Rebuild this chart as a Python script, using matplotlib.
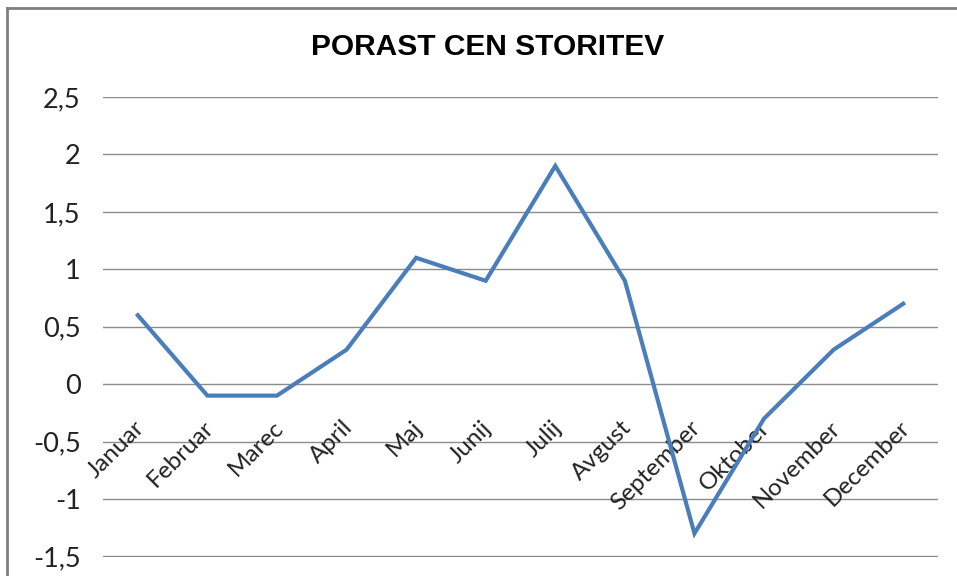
import matplotlib.pyplot as plt
from matplotlib.lines import Line2D

plt.rcParams['font.family'] = ['Lato', 'DejaVu Sans']

meseci = ['Januar', 'Februar', 'Marec', 'April', 'Maj', 'Junij', 'Julij',
          'Avgust', 'September', 'Oktober', 'November', 'December']
porast = [0.6, -0.1, -0.1, 0.3, 1.1, 0.9, 1.9, 0.9, -1.3, -0.3, 0.3, 0.7]
yticks = [-1.5, -1, -0.5, 0, 0.5, 1, 1.5, 2, 2.5]
ylabels = ['-1,5', '-1', '-0,5', '0', '0,5', '1', '1,5', '2', '2,5']

W, H = 957, 576
fig = plt.figure(figsize=(W / 100, H / 100), dpi=100)
fig.patch.set_facecolor('white')

# chart frame (cropped at right and bottom)
fig.add_artist(Line2D([7 / W, 7 / W], [0, 1 - 8 / H], transform=fig.transFigure, color='#7f7f7f', lw=2))
fig.add_artist(Line2D([7 / W, 1], [1 - 8 / H, 1 - 8 / H], transform=fig.transFigure, color='#7f7f7f', lw=2))

ax = fig.add_axes([103 / W, 1 - 557 / H, (938 - 103) / W, (557 - 97) / H])
x = list(range(len(meseci)))
ax.plot(x, porast, color='#4a7ebb', lw=3, solid_joinstyle='miter', zorder=3)

ax.set_xlim(-0.5, len(meseci) - 0.5)
ax.set_ylim(-1.505, 2.5)
ax.set_yticks(yticks)
ax.set_yticklabels(ylabels, fontsize=19.5, color='#222222')
ax.set_xticks([])
ax.tick_params(axis='y', length=0, pad=16)
ax.grid(axis='y', color='#8c8c8c', lw=1)
for s in ax.spines.values():
    s.set_visible(False)

for i, m in enumerate(meseci):
    ax.text(i + 0.04, -0.35, m, rotation=45, rotation_mode='anchor',
            ha='right', va='center', fontsize=17.5, color='#222222', zorder=2)

fig.text(488 / W, 1 - 47 / H, 'PORAST CEN STORITEV', ha='center', va='center',
         fontsize=21.5, fontweight='bold', color='black', family='Liberation Sans')

fig.savefig('out.png', dpi=100)
